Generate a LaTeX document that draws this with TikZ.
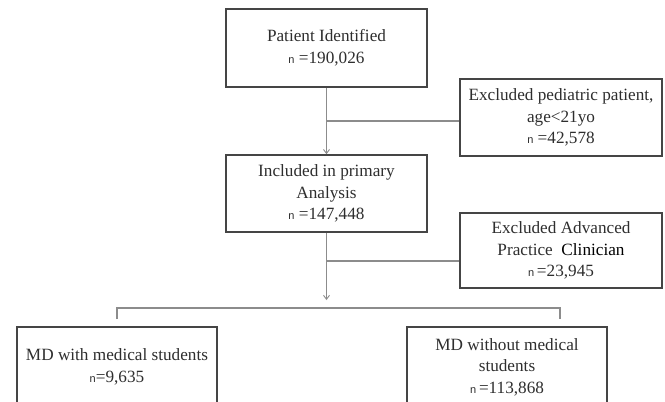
\documentclass[tikz,border=0pt]{standalone}
\usepackage{fontspec}
\setmainfont{Liberation Serif}
\setsansfont{Liberation Sans}
\usetikzlibrary{arrows.meta}
\definecolor{txt}{HTML}{2E2E2E}
\definecolor{boxline}{HTML}{454545}
\definecolor{conn}{HTML}{8C8C8C}
\newcommand{\smn}{{\fontsize{11}{11}\sffamily n}}
\begin{document}
\begin{tikzpicture}[x=1pt,y=1pt,
  box/.style={draw=boxline, line width=1.6pt, fill=white, text=txt, align=center,
    inner sep=0pt, font=\fontsize{17.2}{21.5}\selectfont},
  conline/.style={draw=conn, line width=1.2pt},
  arr/.style={conline, -{Straight Barb[length=4pt,width=6pt,line width=0.9pt]}}]
\useasboundingbox (0,0) rectangle (665,-402);
\clip (0,0) rectangle (665,-402);
\fill[white] (0,0) rectangle (665,-402);
% boxes
\node[box, minimum width=201pt, minimum height=78pt] (b1) at (326.5,-48) {Patient Identified\\ \smn\ =190,026};
\node[box, minimum width=202pt, minimum height=77pt] (ex1) at (561,-117.5) {Excluded pediatric patient,\\ age<21yo\\ \smn\ =42,578};
\node[box, minimum width=201pt, minimum height=77pt] (b2) at (326.5,-193.5) {Included in primary\\ Analysis\\ \smn\ =147,448};
\node[box, minimum width=202pt, minimum height=75pt] (ex2) at (561,-250.5) {Excluded Advanced\\ Practice\ \ {\color{black}Clinician}\\ \smn\,=23,945};
\node[box, minimum width=200pt, minimum height=80pt] (b3) at (117,-367) {MD with medical students\\ \smn=9,635};
\node[box, minimum width=200pt, minimum height=80pt] (b4) at (507,-367) {MD without medical\\ students\\ \smn\,=113,868};
% connectors
\coordinate (j1) at (326.5,-121);
\coordinate (j2) at (326.5,-261);
\coordinate (tip) at (326.5,-300);
\draw[arr] (b1.south) -- (b2.north);
\draw[conline] (j1) -- (j1 -| ex1.west);
\draw[arr] (b2.south) -- (tip);
\draw[conline] (j2) -- (j2 -| ex2.west);
\coordinate (bl) at (117,-319);
\coordinate (br) at (560,-319);
\draw[conline] (bl) -- (117,-308) -- (560,-308) -- (br);
\end{tikzpicture}
\end{document}
